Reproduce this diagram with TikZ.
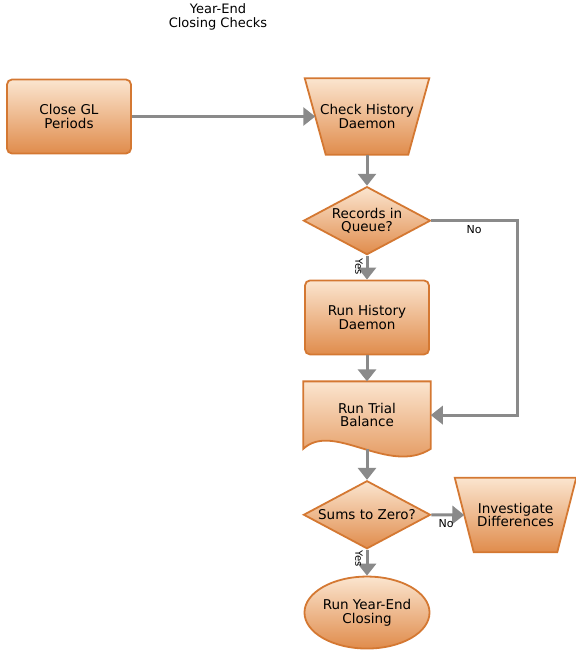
\documentclass[tikz,border=0pt]{standalone}
\usepackage{fontspec}
\setmainfont{DejaVu Sans}
\usepackage{tikz}
\usetikzlibrary{arrows.meta,positioning,shapes.geometric,calc}
\definecolor{yec@edge}{RGB}{212,120,50}
\definecolor{yec@top}{RGB}{251,229,207}
\definecolor{yec@bot}{RGB}{224,140,76}
\definecolor{yec@line}{RGB}{138,138,138}
\tikzset{
  yearend/.style={
    x=1pt, y=-1pt,
    font=\fontsize{13.5}{13.5}\selectfont,
    >={Triangle[length=12pt,width=18pt]},
    line width=0.5pt
  },
  fcbox/.style={                   % common orange fill
    draw=yec@edge, line width=1.8pt,
    top color=yec@top, bottom color=yec@bot,
    align=center, inner sep=0pt
  },
  procstep/.style={
    fcbox, rectangle, rounded corners=5pt,
    minimum width=124pt, minimum height=74pt
  },
  decide/.style={
    fcbox, diamond, aspect=1.8,
    minimum width=127pt, minimum height=68pt
  },
  termstep/.style={
    fcbox, ellipse,
    minimum width=124pt, minimum height=72pt
  },
  frame/.style={                   % empty box, outline drawn by hand
    rectangle, align=center, inner sep=0pt,
    minimum width=127pt, minimum height=67pt
  },
  ttl/.style={align=center, font=\fontsize{13}{13.5}\selectfont}
}

\begin{document}
\begin{tikzpicture}[yearend]
\tikzset{
  flow/.style={->, line width=3pt, draw=yec@line},
  lbl/.style={font=\fontsize{11}{11}\selectfont, inner sep=1pt},
  yeslbl/.style={lbl, font=\fontsize{10}{10}\selectfont, xshift=-8pt, rotate=-90}
}
\useasboundingbox (0,0) rectangle (576,654);

\node[ttl] (title) at (218,17) {Year-End\\Closing Checks};

\node[procstep] (close) at (69,116.5) {Close GL\\Periods};
\node[frame, minimum width=124pt, minimum height=76pt] (check) at (367,116.5) {};
\node[decide, below=31pt of check]   (queue)   {Records in\\Queue?};
\node[procstep, below=24pt of queue] (runhist) {Run History\\Daemon};
\node[frame, below=26pt of runhist]  (trial)   {};
\node[decide, below=31pt of trial]   (sums)    {Sums to Zero?};
\node[frame, minimum width=121pt, minimum height=74pt] (invest) at (515.5,515) {};
\node[termstep, below=26pt of sums]  (yearcl)  {Run Year-End\\Closing};

% manual operation shapes (wide top)
\path[fcbox] (check.north west) -- (check.north east) -- ($(check.south east)+(-21,0)$)
  -- ($(check.south west)+(21,0)$) -- cycle;
\path[fcbox] (invest.north west) -- (invest.north east) -- ($(invest.south east)+(-19,0)$)
  -- ($(invest.south west)+(19,0)$) -- cycle;
% document shape with wavy foot
\path[fcbox] (trial.north west) -- (trial.north east) -- (trial.south east)
  .. controls ($(trial.south east)+(-42,27)$) and ($(trial.south west)+(30,-28)$) .. (trial.south west) -- cycle;

\node[align=center] (checktxt)  at (check)  {Check History\\Daemon};
\node[align=center] (trialtxt)  at (trial)  {Run Trial\\Balance};
\node[align=center] (investtxt) at (invest) {Investigate\\Differences};

\coordinate (noturn) at (517,0 |- queue.east);

\draw[flow] (close.east) -- ($(check.west)+(10.5,0)$);
\draw[flow] (check) -- (queue);
\draw[flow] (queue) -- node[yeslbl, pos=0.45] {Yes} (runhist);
\draw[flow] (queue.east) -- node[lbl, below=2pt, pos=0.5] {No} (noturn) |- (trial.east);
\draw[flow] (runhist) -- (trial.north);
\draw[flow] (trial.south) -- (sums);
\draw[flow] (sums.east) -- node[lbl, below=2pt, pos=0.45] {No} ($(invest.west)+(9.5,0)$);
\draw[flow] (sums) -- node[yeslbl, pos=0.35] {Yes} (yearcl);

\end{tikzpicture}
\end{document}
